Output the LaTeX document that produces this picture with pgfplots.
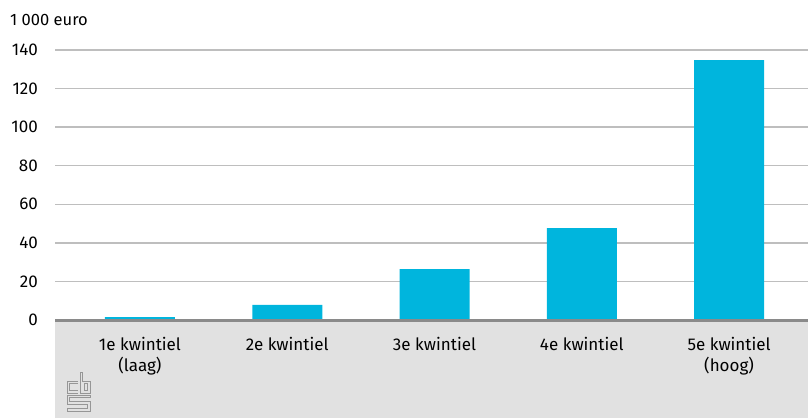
\documentclass[border=0pt]{standalone}
\usepackage{pgfplots}
\pgfplotsset{compat=1.18}
\usepackage{fontspec}
\setmainfont{Fira Sans}
\definecolor{barblue}{RGB}{0,181,221}
\definecolor{gridgray}{RGB}{190,190,190}
\definecolor{axisgray}{RGB}{138,138,138}
\definecolor{bandgray}{RGB}{225,225,225}
\definecolor{logogray}{RGB}{150,150,150}
\begin{document}
\begin{tikzpicture}[x=1bp,y=1bp]
\path[use as bounding box] (0,0) rectangle (808,418);
\fill[bandgray] (55,0) rectangle (808,97);
% CBS logo (decoration)
\begin{scope}[draw=logogray, line width=1bp]
% c
\draw (78,37) -- (67,37) -- (67,25) -- (78,25);
\draw (78,34.5) -- (69.5,34.5) -- (69.5,27.5) -- (78,27.5);
% b
\draw (80,46) -- (80,25) -- (90,25) -- (90,37) -- (82.5,37) -- (82.5,46) -- cycle;
\draw (84.5,34.5) rectangle (87.5,27.5);
% s
\draw (90,23) -- (67,23) -- (67,14) -- (87.5,14) -- (87.5,9.5) -- (67,9.5) -- (67,7) -- (90,7) -- (90,16.5) -- (69.5,16.5) -- (69.5,20.5) -- (90,20.5) -- cycle;
\end{scope}
\node[anchor=west, font=\fontsize{16.5bp}{19bp}\selectfont, inner sep=0pt] at (10,398) {1 000 euro};
\begin{axis}[
  at={(55bp,98bp)}, anchor=south west,
  scale only axis, width=753bp, height=270bp,
  xmin=-0.577, xmax=4.536, ymin=0, ymax=140,
  ytick={0,20,...,140},
  xtick=data,
  xticklabels={{1e kwintiel\\(laag)},{2e kwintiel},{3e kwintiel},{4e kwintiel},{5e kwintiel\\(hoog)}},
  xticklabel style={align=center, font=\fontsize{17bp}{21bp}\selectfont, anchor=north, yshift=-9bp},
  yticklabel style={font=\fontsize{17bp}{19bp}\selectfont, anchor=east, inner sep=0pt, xshift=-17bp},
  /pgf/number format/assume math mode=true,
  axis line style={draw=none},
  major tick style={draw=none},
  ymajorgrids, grid style={gridgray, line width=1.5bp},
  ybar, bar width=70bp,
  clip=false,
]
\addplot[fill=barblue, draw=none] coordinates {(0,1.5) (1,7.8) (2,26.4) (3,47.7) (4,134.8)};
\draw[axisgray, line width=3bp] (rel axis cs:0,0) -- (rel axis cs:1,0);
\end{axis}
\end{tikzpicture}
\end{document}
